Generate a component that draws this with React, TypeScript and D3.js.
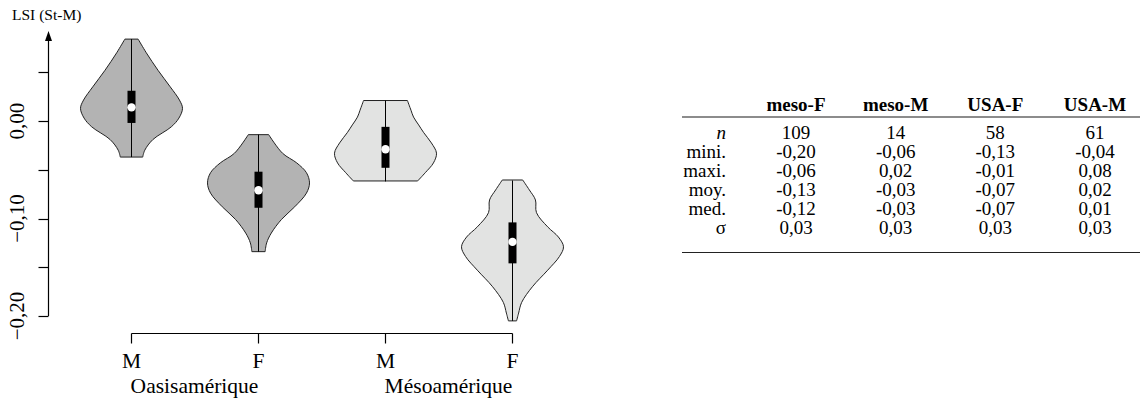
import React, { useRef, useEffect } from "react";
import * as d3 from "d3";

// violin groups (left to right)
const sexLabels = ["M", "F", "M", "F"];
const regionLabels = ["Oasisamérique", "Mésoamérique"];
const violinFills = ["#b3b3b3", "#b3b3b3", "#e2e3e2", "#e2e3e2"];

// five-number summaries: [min, q1, median, q3, max]
const summaries = [
  [-0.037, -0.002, 0.014, 0.031, 0.084],
  [-0.134, -0.089, -0.071, -0.052, -0.014],
  [-0.062, -0.048, -0.029, -0.006, 0.021],
  [-0.205, -0.146, -0.124, -0.104, -0.061],
];

// density outlines, [value, relative density]
const densities = [
  [
    [-0.037, 0.22], [-0.03, 0.26], [-0.019, 0.42], [-0.006, 0.78], [0.003, 0.93],
    [0.013, 1.0], [0.0215, 0.94], [0.035, 0.76], [0.052, 0.52], [0.07, 0.29], [0.084, 0.13],
  ],
  [
    [-0.134, 0.13], [-0.125, 0.16], [-0.115, 0.25], [-0.101, 0.45], [-0.088, 0.71],
    [-0.074, 0.94], [-0.0635, 1.0], [-0.053, 0.94], [-0.043, 0.75], [-0.033, 0.47], [-0.014, 0.2],
  ],
  [
    [-0.0615, 0.63], [-0.053, 0.78], [-0.043, 0.94], [-0.033, 1.0], [-0.0225, 0.9],
    [-0.012, 0.75], [-0.004, 0.65], [0.004, 0.55], [0.011, 0.5], [0.021, 0.43],
  ],
  [
    [-0.205, 0.08], [-0.197, 0.12], [-0.186, 0.18], [-0.17, 0.39], [-0.153, 0.69],
    [-0.139, 0.92], [-0.129, 1.0], [-0.119, 0.9], [-0.1086, 0.69], [-0.094, 0.47],
    [-0.081, 0.45], [-0.0707, 0.33], [-0.0605, 0.2],
  ],
];

const yTicks = [0.05, 0, -0.05, -0.1, -0.15, -0.2];
const yTickLabels = [0, -0.1, -0.2];

// summary table
const tableColumns = ["meso-F", "meso-M", "USA-F", "USA-M"];
const tableRowLabels = ["n", "mini.", "maxi.", "moy.", "med.", "σ"];
const tableRows = [
  ["109", "14", "58", "61"],
  ["-0,20", "-0,06", "-0,13", "-0,04"],
  ["-0,06", "0,02", "-0,01", "0,08"],
  ["-0,13", "-0,03", "-0,07", "0,02"],
  ["-0,12", "-0,03", "-0,07", "0,01"],
  ["0,03", "0,03", "0,03", "0,03"],
];

const FONT = "Liberation Serif, Times New Roman, serif";

const ViolinChart = () => {
  const svgRef = useRef(null);

  useEffect(() => {
    const svg = d3.select(svgRef.current);
    svg.selectAll("*").remove();

    const yScale = d3.scaleLinear().domain([0, -0.2]).range([121, 316]);
    const xScale = d3.scalePoint().domain(d3.range(4).map(String)).range([131, 512]);
    const wScale = d3.scaleLinear().domain([0, 1]).range([0, 51]);

    // y axis with arrow
    const axisX = 48.5;
    svg
      .append("line")
      .attr("x1", axisX)
      .attr("x2", axisX)
      .attr("y1", yScale(-0.2))
      .attr("y2", 36)
      .attr("stroke", "#000")
      .attr("stroke-width", 1.2);
    svg
      .append("path")
      .attr("d", `M${axisX},31 L${axisX - 3.5},41 L${axisX + 3.5},41 Z`)
      .attr("fill", "#000");

    yTicks.forEach((t) => {
      svg
        .append("line")
        .attr("x1", axisX - 10)
        .attr("x2", axisX)
        .attr("y1", Math.round(yScale(t)) + 0.5)
        .attr("y2", Math.round(yScale(t)) + 0.5)
        .attr("stroke", "#000")
        .attr("stroke-width", 1.2);
    });

    yTickLabels.forEach((t) => {
      const label = (t < 0 ? "\u2212" : "") + Math.abs(t).toFixed(2).replace(".", ",");
      svg
        .append("text")
        .attr("transform", `translate(24,${yScale(t)}) rotate(-90)`)
        .attr("text-anchor", "middle")
        .attr("font-family", FONT)
        .attr("font-size", 21)
        .text(label);
    });

    svg
      .append("text")
      .attr("x", 12)
      .attr("y", 20)
      .attr("font-family", FONT)
      .attr("font-size", 15.5)
      .text("LSI (St-M)");

    // violins
    const area = d3
      .area()
      .curve(d3.curveCatmullRom.alpha(0.5))
      .y((d) => yScale(d[0]));

    densities.forEach((dens, i) => {
      const cx = Math.round(xScale(String(i))) + 0.5;
      const s = summaries[i];
      svg
        .append("path")
        .datum(dens)
        .attr(
          "d",
          area.x0((d) => cx - wScale(d[1])).x1((d) => cx + wScale(d[1]))
        )
        .attr("fill", violinFills[i])
        .attr("stroke", "#222")
        .attr("stroke-width", 1);

      svg
        .append("line")
        .attr("x1", cx)
        .attr("x2", cx)
        .attr("y1", yScale(s[0]))
        .attr("y2", yScale(s[4]))
        .attr("stroke", "#000")
        .attr("stroke-width", 1);

      svg
        .append("rect")
        .attr("x", cx - 4)
        .attr("width", 8)
        .attr("y", yScale(s[3]))
        .attr("height", yScale(s[1]) - yScale(s[3]))
        .attr("fill", "#000");

      svg
        .append("circle")
        .attr("cx", cx)
        .attr("cy", yScale(s[2]))
        .attr("r", 4.2)
        .attr("fill", "#fff");
    });

    // x axis
    const axisY = 333.5;
    svg
      .append("line")
      .attr("x1", Math.round(xScale("0")) + 0.5)
      .attr("x2", Math.round(xScale("3")) + 0.5)
      .attr("y1", axisY)
      .attr("y2", axisY)
      .attr("stroke", "#000")
      .attr("stroke-width", 1.2);

    sexLabels.forEach((lab, i) => {
      const cx = Math.round(xScale(String(i))) + 0.5;
      svg
        .append("line")
        .attr("x1", cx)
        .attr("x2", cx)
        .attr("y1", axisY)
        .attr("y2", axisY + 10)
        .attr("stroke", "#000")
        .attr("stroke-width", 1.2);
      svg
        .append("text")
        .attr("x", cx)
        .attr("y", 368)
        .attr("text-anchor", "middle")
        .attr("font-family", FONT)
        .attr("font-size", 21.5)
        .text(lab);
    });

    regionLabels.forEach((lab, i) => {
      const cx = (xScale(String(i * 2)) + xScale(String(i * 2 + 1))) / 2;
      svg
        .append("text")
        .attr("x", cx)
        .attr("y", 393)
        .attr("text-anchor", "middle")
        .attr("font-family", FONT)
        .attr("font-size", 21.5)
        .text(lab);
    });

    // table
    const colX = d3.scalePoint().domain(tableColumns).range([796, 1095]);
    const labelX = 726;
    const headerY = 111;
    const rowY = d3
      .scaleLinear()
      .domain([0, tableRowLabels.length - 1])
      .range([139, 234]);

    const table = svg.append("g").attr("font-family", FONT).attr("font-size", 19);

    tableColumns.forEach((c) => {
      table
        .append("text")
        .attr("x", colX(c))
        .attr("y", headerY)
        .attr("text-anchor", "middle")
        .attr("font-weight", "bold")
        .text(c);
    });

    table
      .append("line")
      .attr("x1", 682)
      .attr("x2", 1140)
      .attr("y1", 117)
      .attr("y2", 117)
      .attr("stroke", "#666")
      .attr("stroke-width", 1.6);

    tableRowLabels.forEach((lab, r) => {
      table
        .append("text")
        .attr("x", labelX)
        .attr("y", rowY(r))
        .attr("text-anchor", "end")
        .attr("font-style", r === 0 ? "italic" : "normal")
        .text(lab);
      tableRows[r].forEach((v, c) => {
        table
          .append("text")
          .attr("x", colX(tableColumns[c]))
          .attr("y", rowY(r))
          .attr("text-anchor", "middle")
          .text(v);
      });
    });

    table
      .append("line")
      .attr("x1", 682)
      .attr("x2", 1140)
      .attr("y1", 252.5)
      .attr("y2", 252.5)
      .attr("stroke", "#222")
      .attr("stroke-width", 1.2);
  }, []);

  return (
    <svg
      ref={svgRef}
      width={1142}
      height={402}
      style={{ position: "absolute", left: 0, top: 0, background: "#fff" }}
    ></svg>
  );
};

export default function App() {
  return <ViolinChart />;
}
